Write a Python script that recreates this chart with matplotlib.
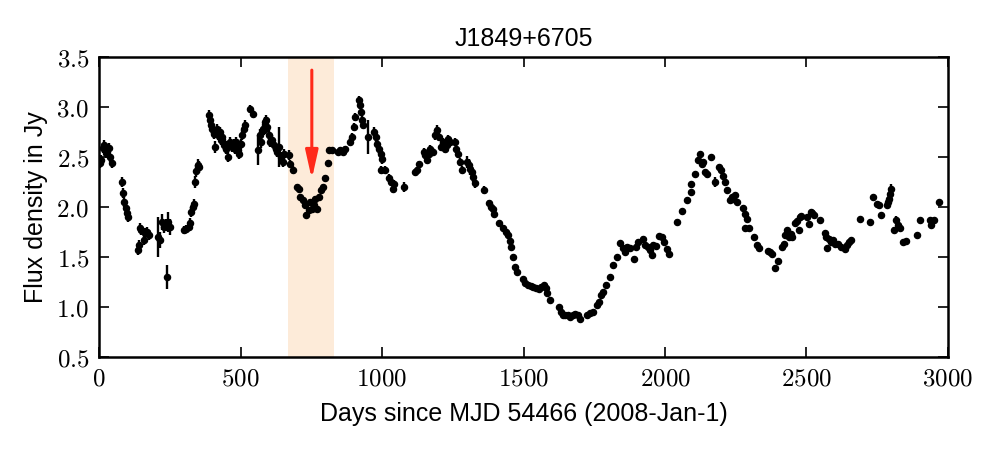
import matplotlib
matplotlib.use("Agg")
import matplotlib.pyplot as plt
from matplotlib.ticker import FixedLocator, FuncFormatter

plt.rcParams['font.family'] = ['Liberation Sans', 'DejaVu Sans']
plt.rcParams['mathtext.fontset'] = 'cm'

title = "J1849+6705"
xlabel = "Days since MJD 54466 (2008-Jan-1)"
ylabel = "Flux density in Jy"

x_ticks = [0, 500, 1000, 1500, 2000, 2500, 3000]
y_ticks = [0.5, 1.0, 1.5, 2.0, 2.5, 3.0, 3.5]

band_start, band_end = 668, 830
arrow_day, arrow_top, arrow_tip = 752, 3.37, 2.28

days = [
    4, 7, 14, 19, 26, 34, 40, 46,
    81, 85, 90, 95, 99, 102,
    137, 140, 146, 150, 158, 164, 170, 176,
    208, 216, 223, 229, 235, 240, 244, 250,
    302, 309, 317, 322, 326, 331, 335,
    340, 344, 349, 355,
    388, 391, 396, 400, 405, 411, 417, 422, 426, 431, 436, 440, 445, 450,
    455, 460, 464, 470, 476, 481, 485, 490, 495, 500, 505, 511, 517,
    535, 544,
    562, 568, 574, 578, 582, 585, 590, 595, 600, 606, 612, 618, 624, 630,
    637, 643, 649, 655,
    670, 676, 684, 700, 706, 711, 720, 729, 733, 741, 747, 753, 759, 765,
    771, 779, 786, 792, 797, 809, 814, 824,
    845, 853, 861, 868, 888, 894, 900, 906, 918, 921, 926, 929, 933,
    951, 973, 978, 983, 989, 995, 1001, 998, 1009,
    1024, 1032, 1038, 1042, 1077,
    1115, 1123, 1131, 1147, 1153, 1159, 1165, 1171, 1179, 1188, 1194, 1200,
    1210, 1216, 1222, 1228, 1234, 1240, 1257, 1263, 1269, 1277, 1283,
    1300, 1306, 1312, 1318, 1322, 1327, 1359,
    1379, 1386, 1392, 1396, 1412, 1427, 1439, 1446, 1451, 1457, 1463,
    1471, 1477, 1497, 1506, 1516, 1525, 1535, 1544, 1554, 1563, 1573,
    1579, 1583, 1595,
    1624, 1631, 1639, 1648, 1658, 1666, 1674, 1683, 1692, 1701,
    1724, 1736, 1744, 1760, 1766, 1775, 1782, 1790, 1806, 1815, 1829,
    1841, 1850, 1858, 1864, 1876, 1891, 1897, 1905, 1921, 1929, 1939,
    1947, 1953, 1959, 1968, 1980, 1988, 1996, 2006, 2014,
    2044, 2059, 2079, 2091, 2092, 2106, 2118, 2124, 2130, 2136, 2142,
    2148, 2163, 2177, 2191, 2197, 2206, 2212, 2220, 2229, 2235, 2241,
    2247, 2253, 2274, 2281, 2283, 2291, 2298, 2316, 2325, 2331,
    2365, 2370, 2378, 2389, 2399,
    2413, 2419, 2425, 2432, 2437, 2444, 2449, 2460, 2467, 2472, 2477,
    2481, 2503, 2508, 2515, 2521, 2527, 2546,
    2564, 2570, 2574, 2578, 2586, 2594, 2600, 2610, 2623, 2637, 2643,
    2649, 2656,
    2688, 2723, 2735, 2749, 2756, 2764, 2784, 2788, 2791, 2796, 2799,
    2808, 2817, 2823, 2829, 2841, 2850, 2892, 2902, 2935, 2941, 2949, 2967,
]

flux = [
    2.44, 2.47, 2.59, 2.62, 2.54, 2.59, 2.50, 2.44,
    2.25, 2.14, 2.05, 1.99, 1.94, 1.90,
    1.57, 1.62, 1.79, 1.77, 1.67, 1.74, 1.75, 1.72,
    1.70, 1.67, 1.85, 1.80, 1.82, 1.30, 1.85, 1.80,
    1.77, 1.78, 1.80, 1.84, 1.95, 2.00, 2.03,
    2.25, 2.36, 2.42, 2.40,
    2.92, 2.87, 2.82, 2.78, 2.73, 2.60, 2.78, 2.72, 2.75, 2.67, 2.70, 2.62, 2.63, 2.58,
    2.50, 2.62, 2.65, 2.60, 2.63, 2.58, 2.65, 2.57, 2.53, 2.63, 2.72, 2.78, 2.82,
    2.98, 2.93,
    2.57, 2.72, 2.65, 2.78, 2.77, 2.85, 2.87, 2.80, 2.72, 2.65, 2.67, 2.62, 2.58, 2.55,
    2.60, 2.50, 2.45, 2.53,
    2.52, 2.43, 2.37, 2.20, 2.18, 2.10, 2.07, 2.02, 1.92, 1.97, 2.05, 1.98, 2.02, 2.08,
    1.98, 2.10, 2.17, 2.20, 2.29, 2.44, 2.57, 2.57,
    2.55, 2.57, 2.55, 2.58, 2.65, 2.70, 2.80, 2.90, 3.07, 3.02, 2.95, 2.87, 2.82,
    2.70, 2.75, 2.70, 2.63, 2.58, 2.53, 2.48, 2.37, 2.37,
    2.29, 2.25, 2.18, 2.23, 2.20,
    2.35, 2.37, 2.43, 2.55, 2.52, 2.47, 2.53, 2.58, 2.55, 2.72, 2.77, 2.70,
    2.60, 2.65, 2.58, 2.62, 2.68, 2.65, 2.65, 2.58, 2.53, 2.45, 2.37,
    2.45, 2.42, 2.38, 2.35, 2.30, 2.24, 2.17,
    2.04, 2.00, 1.98, 1.93, 1.84, 1.79, 1.75, 1.72, 1.66, 1.60, 1.50,
    1.40, 1.35, 1.28, 1.24, 1.22, 1.21, 1.20, 1.19, 1.18, 1.20, 1.22,
    1.19, 1.14, 1.07,
    1.00, 0.95, 0.92, 0.92, 0.92, 0.90, 0.92, 0.93, 0.92, 0.88,
    0.92, 0.94, 0.95, 1.02, 1.05, 1.12, 1.15, 1.22, 1.30, 1.42, 1.50,
    1.64, 1.59, 1.55, 1.60, 1.59, 1.48, 1.60, 1.65, 1.68, 1.62, 1.60,
    1.57, 1.52, 1.62, 1.61, 1.71, 1.70, 1.65, 1.58, 1.53,
    1.85, 1.96, 2.07, 2.23, 2.15, 2.33, 2.47, 2.53, 2.43, 2.45, 2.35,
    2.33, 2.50, 2.25, 2.40, 2.37, 2.31, 2.25, 2.17, 2.07, 2.10, 2.08,
    2.12, 2.05, 1.99, 1.79, 1.93, 1.88, 1.79, 1.70, 1.62, 1.59,
    1.56, 1.55, 1.53, 1.39, 1.46,
    1.60, 1.63, 1.72, 1.77, 1.70, 1.73, 1.70, 1.84, 1.86, 1.77, 1.90,
    1.91, 1.90, 1.83, 1.95, 1.94, 1.92, 1.87,
    1.74, 1.70, 1.59, 1.68, 1.65, 1.67, 1.63, 1.63, 1.60, 1.58, 1.62,
    1.65, 1.67,
    1.88, 1.85, 2.10, 2.03, 2.02, 1.92, 2.02, 2.05, 2.08, 2.13, 2.18,
    1.77, 1.87, 1.82, 1.79, 1.65, 1.66, 1.72, 1.87, 1.87, 1.82, 1.87, 2.05,
]

flux_err = [
    0.05, 0.05, 0.05, 0.05, 0.05, 0.05, 0.05, 0.05,
    0.05, 0.05, 0.05, 0.05, 0.05, 0.05,
    0.05, 0.05, 0.05, 0.05, 0.05, 0.05, 0.05, 0.05,
    0.20, 0.08, 0.08, 0.06, 0.06, 0.12, 0.10, 0.08,
    0.04, 0.04, 0.04, 0.05, 0.05, 0.05, 0.05,
    0.06, 0.06, 0.06, 0.06,
    0.05, 0.05, 0.05, 0.05, 0.05, 0.06, 0.05, 0.05, 0.05, 0.05, 0.05, 0.05, 0.05, 0.05,
    0.05, 0.05, 0.05, 0.05, 0.05, 0.05, 0.05, 0.05, 0.05, 0.05, 0.05, 0.05, 0.05,
    0.04, 0.04,
    0.15, 0.06, 0.06, 0.05, 0.05, 0.05, 0.05, 0.05, 0.05, 0.05, 0.05, 0.05, 0.05, 0.05,
    0.20, 0.05, 0.05, 0.05,
    0.05, 0.04, 0.04, 0.03, 0.03, 0.03, 0.03, 0.03, 0.03, 0.03, 0.03, 0.03, 0.03, 0.03,
    0.03, 0.03, 0.03, 0.03, 0.03, 0.03, 0.03, 0.03,
    0.03, 0.03, 0.03, 0.03, 0.04, 0.04, 0.04, 0.04, 0.04, 0.04, 0.04, 0.04, 0.04,
    0.17, 0.05, 0.05, 0.05, 0.05, 0.05, 0.05, 0.04, 0.04,
    0.04, 0.04, 0.04, 0.04, 0.05,
    0.03, 0.03, 0.03, 0.04, 0.04, 0.04, 0.04, 0.04, 0.04, 0.05, 0.05, 0.04,
    0.04, 0.04, 0.04, 0.04, 0.04, 0.04, 0.04, 0.04, 0.04, 0.04, 0.04,
    0.06, 0.06, 0.06, 0.05, 0.05, 0.05, 0.04,
    0.03, 0.03, 0.03, 0.03, 0.02, 0.02, 0.02, 0.02, 0.02, 0.02, 0.02,
    0.02, 0.02, 0.02, 0.02, 0.02, 0.02, 0.02, 0.02, 0.02, 0.02, 0.02,
    0.02, 0.02, 0.02,
    0.02, 0.02, 0.02, 0.02, 0.02, 0.02, 0.02, 0.02, 0.02, 0.02,
    0.02, 0.02, 0.02, 0.02, 0.02, 0.02, 0.02, 0.03, 0.02, 0.02, 0.02,
    0.02, 0.03, 0.03, 0.03, 0.03, 0.03, 0.03, 0.03, 0.03, 0.03, 0.03,
    0.03, 0.03, 0.03, 0.03, 0.02, 0.02, 0.03, 0.03, 0.03,
    0.03, 0.02, 0.02, 0.02, 0.02, 0.02, 0.02, 0.02, 0.02, 0.02, 0.02,
    0.02, 0.02, 0.05, 0.02, 0.02, 0.02, 0.02, 0.02, 0.02, 0.02, 0.02,
    0.02, 0.02, 0.02, 0.02, 0.02, 0.02, 0.02, 0.02, 0.02, 0.02,
    0.02, 0.02, 0.02, 0.03, 0.02,
    0.02, 0.02, 0.02, 0.02, 0.02, 0.02, 0.02, 0.02, 0.02, 0.02, 0.02,
    0.02, 0.02, 0.02, 0.02, 0.02, 0.02, 0.02,
    0.02, 0.02, 0.02, 0.02, 0.02, 0.02, 0.02, 0.02, 0.02, 0.02, 0.02,
    0.02, 0.02,
    0.02, 0.02, 0.02, 0.02, 0.02, 0.02, 0.02, 0.03, 0.04, 0.04, 0.05,
    0.03, 0.04, 0.03, 0.03, 0.02, 0.02, 0.02, 0.02, 0.02, 0.02, 0.02, 0.02,
]

fig = plt.figure(figsize=(10, 4.5), dpi=100)
ax = fig.add_axes([0.099, 0.207, 0.849, 0.666])

ax.axvspan(band_start, band_end, color='#fdebd9', zorder=0, lw=0)

ax.errorbar(days, flux, yerr=flux_err, fmt='o', color='black', ms=4.4,
            elinewidth=1.7, capsize=0, zorder=3)

ax.annotate('', xy=(arrow_day, arrow_tip), xytext=(arrow_day, arrow_top),
            arrowprops=dict(arrowstyle='-|>,head_width=0.38,head_length=1.7',
                            color='#ff2a1a', lw=2.2, shrinkA=0, shrinkB=0),
            zorder=4)

ax.set_xlim(0, 3000)
ax.set_ylim(0.5, 3.5)
ax.xaxis.set_major_locator(FixedLocator(x_ticks))
ax.yaxis.set_major_locator(FixedLocator(y_ticks))
ax.xaxis.set_major_formatter(FuncFormatter(lambda v, p: r'$%d$' % v))
ax.yaxis.set_major_formatter(FuncFormatter(lambda v, p: r'$%.1f$' % v))
ax.tick_params(direction='in', length=7, width=1.2, top=True, right=True,
               labelsize=18, pad=7)
for s in ax.spines.values():
    s.set_linewidth(1.8)

ax.set_title(title, fontsize=18, pad=8)
ax.set_xlabel(xlabel, fontsize=18, labelpad=8)
ax.set_ylabel(ylabel, fontsize=18, labelpad=6)

fig.savefig('out.png', dpi=100)
